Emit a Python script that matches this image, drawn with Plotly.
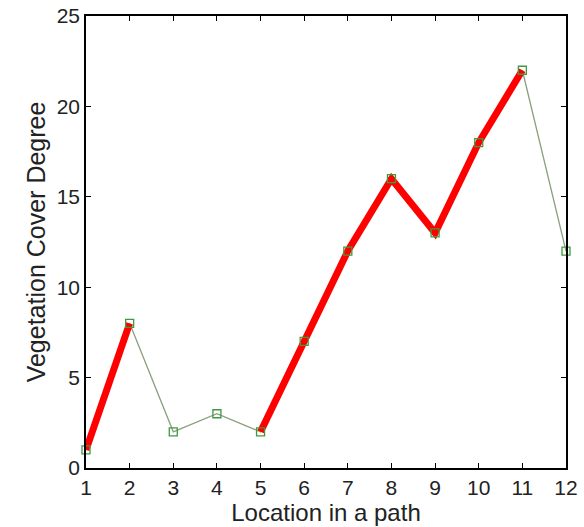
import plotly.graph_objects as go

locations = [1, 2, 3, 4, 5, 6, 7, 8, 9, 10, 11, 12]
cover = [1, 8, 2, 3, 2, 7, 12, 16, 13, 18, 22, 12]
highlight = [True, True, False, False, True, True, True, True, True, True, True, False]

red_y = [v if h else None for v, h in zip(cover, highlight)]

fig = go.Figure()
fig.add_trace(go.Scatter(x=locations, y=cover, mode="lines",
                         line=dict(color="#8aa07e", width=1.3), hoverinfo="skip"))
fig.add_trace(go.Scatter(x=locations, y=red_y, mode="lines",
                         line=dict(color="#ff0000", width=7), connectgaps=False,
                         hoverinfo="skip"))
fig.add_trace(go.Scatter(x=locations, y=cover, mode="markers",
                         marker=dict(symbol="square-open", size=8, color="#3f9a3f",
                                     line=dict(width=1.3)), cliponaxis=False))

axis_common = dict(showgrid=False, zeroline=False, showline=True, linecolor="black",
                   linewidth=1.5, mirror="ticks", ticks="inside", ticklen=5,
                   tickcolor="black", automargin=False,
                   tickfont=dict(family="Liberation Sans, Arial", size=21, color="#222"))

fig.update_layout(
    width=584, height=527,
    margin=dict(l=86, r=18, t=16, b=59),
    paper_bgcolor="white", plot_bgcolor="white",
    showlegend=False,
    font=dict(family="Liberation Sans, Arial", color="#222"),
    xaxis=dict(range=[1, 12], tickvals=locations, **axis_common,
               title=dict(text="Location in a path", font=dict(size=24), standoff=0)),
    yaxis=dict(range=[0, 25], tickvals=[0, 5, 10, 15, 20, 25], **axis_common,
               title=dict(text="Vegetation Cover Degree", font=dict(size=25), standoff=4)),
)

fig.write_html("out.html", config={"displayModeBar": False},
               post_script="document.body.style.margin='0';")
